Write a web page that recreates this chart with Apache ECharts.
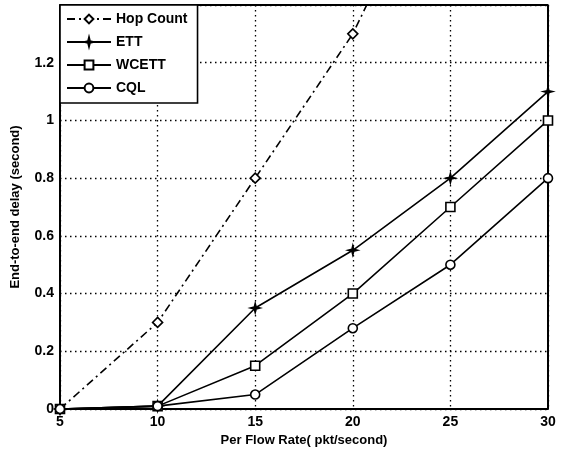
<!DOCTYPE html>
<html><head><meta charset="utf-8">
<script src="https://cdn.jsdelivr.net/npm/echarts@6/dist/echarts.min.js"></script>
<style>html,body{margin:0;padding:0;background:#fff}#c{width:564px;height:455px}</style>
</head><body><div id="c"></div>
<script>
const xCats = [5, 10, 15, 20, 25, 30];
const hopCount = [0, 0.3, 0.8, 1.3, 2.0, 2.7];
const ett = [0, 0.01, 0.35, 0.55, 0.8, 1.1];
const wcett = [0, 0.01, 0.15, 0.4, 0.7, 1.0];
const cql = [0, 0.01, 0.05, 0.28, 0.5, 0.8];
const names = ['Hop Count', 'ETT', 'WCETT', 'CQL'];

const pair = arr => xCats.map((x, i) => [x, arr[i]]);
const font = 'Liberation Sans';
const chart = echarts.init(document.getElementById('c'));
const starPath = 'path://M0,-10L2,-2L10,0L2,2L0,10L-2,2L-10,0L-2,-2Z';
function ser(name, arr, symbol, size, dash, fill) {
  return {
    name, type: 'line', data: pair(arr), symbol, symbolSize: size,
    lineStyle: {color: '#000', width: 1.6, type: dash},
    itemStyle: {color: fill, borderColor: '#000', borderWidth: 1.6},
    showAllSymbol: true, clip: true, z: 3
  };
}
chart.setOption({
  animation: false,
  textStyle: {fontFamily: font},
  grid: {left: 60, right: 16, top: 5, bottom: 46},
  legend: {
    left: 60, top: 5, orient: 'vertical', itemGap: 9, itemWidth: 44, itemHeight: 11,
    backgroundColor: '#fff', borderColor: '#000', borderWidth: 1.6, padding: [7, 10, 8, 6],
    textStyle: {fontFamily: font, fontSize: 14, fontWeight: 'bold', color: '#000'},
    data: names
  },
  xAxis: {
    type: 'value', min: 5, max: 30, interval: 5,
    name: 'Per Flow Rate( pkt/second)', nameLocation: 'middle', nameGap: 22,
    nameTextStyle: {fontSize: 13, fontWeight: 'bold', color: '#000', fontFamily: font},
    axisLine: {lineStyle: {color: '#000', width: 2}},
    axisTick: {show: false},
    axisLabel: {color: '#000', fontSize: 14, fontWeight: 'bold', margin: 6, fontFamily: font},
    splitLine: {show: true, lineStyle: {color: '#000', type: [1.5, 3.5], width: 1.3}}
  },
  yAxis: {
    type: 'value', min: 0, max: 1.4, interval: 0.2,
    name: 'End-to-end delay (second)', nameLocation: 'middle', nameGap: 38,
    nameTextStyle: {fontSize: 13, fontWeight: 'bold', color: '#000', fontFamily: font},
    axisLine: {show: true, lineStyle: {color: '#000', width: 2}},
    axisTick: {show: false},
    axisLabel: {color: '#000', fontSize: 14, fontWeight: 'bold', margin: 6, showMaxLabel: false,
      fontFamily: font, formatter: v => (Math.round(v * 10) / 10).toString()},
    splitLine: {show: true, lineStyle: {color: '#000', type: [1.5, 3.5], width: 1.3}}
  },
  series: [
    ser(names[0], hopCount, 'diamond', 10, [8, 4, 2, 4], '#fff'),
    ser(names[1], ett, starPath, 9, 'solid', '#000'),
    ser(names[2], wcett, 'rect', 9, 'solid', '#fff'),
    ser(names[3], cql, 'circle', 9, 'solid', '#fff'),
    {
      type: 'line', data: [[30, 0], [30, 1.4], [5, 1.4]], symbol: 'none', silent: true,
      lineStyle: {color: '#000', width: 2}, z: 1, legendHoverLink: false
    }
  ]
});
</script></body></html>
